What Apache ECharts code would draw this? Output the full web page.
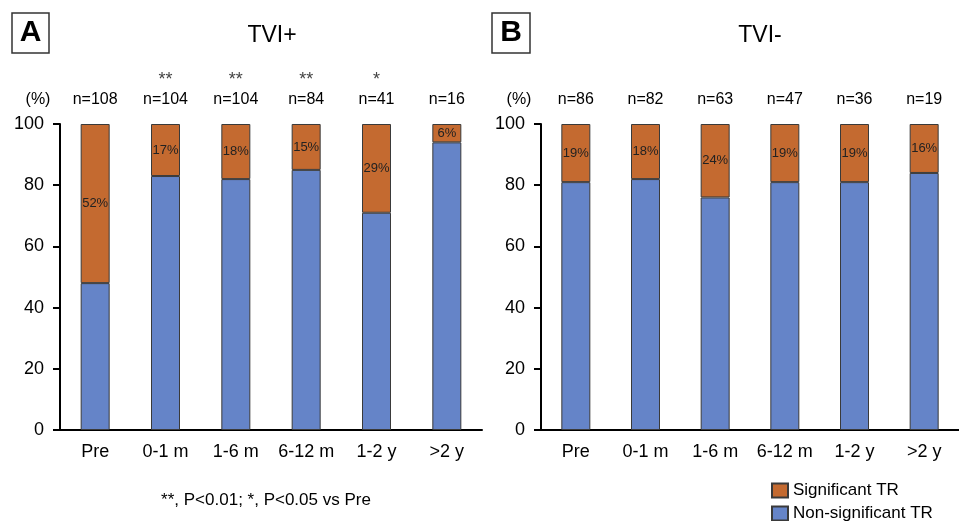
<!DOCTYPE html>
<html>
<head>
<meta charset="utf-8">
<script src="https://cdn.jsdelivr.net/npm/echarts@6/dist/echarts.min.js"></script>
<style>
  html, body { margin: 0; padding: 0; background: #fff; }
  #chart { width: 959px; height: 521px; }
</style>
</head>
<body>
<div id="chart"></div>
<script>
(function() {
  const categories = ['Pre', '0-1 m', '1-6 m', '6-12 m', '1-2 y', '>2 y'];

  // TVI+ panel
  const posNonSig = [48, 83, 82, 85, 71, 94];
  const posSig = [52, 17, 18, 15, 29, 6];
  const posN = [108, 104, 104, 84, 41, 16];
  const posStars = ['', '**', '**', '**', '*', ''];

  // TVI- panel
  const negNonSig = [81, 82, 76, 81, 81, 84];
  const negSig = [19, 18, 24, 19, 19, 16];
  const negN = [86, 82, 63, 47, 36, 19];
  const negStars = ['', '', '', '', '', ''];

  const yTicks = [0, 20, 40, 60, 80, 100];
  const legendNames = ['Significant TR', 'Non-significant TR'];

  const orange = '#c46a30';
  const blue = '#6584c8';
  const edge = '#3a3a3a';
  const font = '"Liberation Sans", Arial, sans-serif';

  const chart = echarts.init(document.getElementById('chart'));

  const yAxisFor = (gridIndex) => ({
    type: 'value',
    gridIndex: gridIndex,
    min: yTicks[0],
    max: yTicks[yTicks.length - 1],
    interval: 20,
    axisLine: { show: true, lineStyle: { color: '#000', width: 2 } },
    axisTick: { show: true, length: 7, lineStyle: { color: '#000', width: 2 } },
    axisLabel: { color: '#000', fontSize: 18, fontFamily: font, margin: 16 },
    splitLine: { show: false }
  });

  const xAxisFor = (gridIndex) => ({
    type: 'category',
    gridIndex: gridIndex,
    data: categories,
    axisLine: { lineStyle: { color: '#000', width: 2 } },
    axisTick: { show: false },
    axisLabel: { color: '#000', fontSize: 18, fontFamily: font, margin: 13, interval: 0, hideOverlap: false }
  });

  const topAxisFor = (gridIndex, ns, stars) => ({
    type: 'category',
    gridIndex: gridIndex,
    position: 'top',
    data: categories,
    axisLine: { show: false },
    axisTick: { show: false },
    axisLabel: {
      margin: 14,
      interval: 0,
      formatter: (value, index) => '{s|' + (stars[index] || ' ') + '}\n{n|n=' + ns[index] + '}',
      rich: {
        s: { fontSize: 18, color: '#444', fontFamily: font, lineHeight: 19 },
        n: { fontSize: 16, color: '#000', fontFamily: font, lineHeight: 20 }
      }
    }
  });

  const barSeries = (name, data, axisIndex, color, withLabel) => ({
    name: name,
    type: 'bar',
    stack: 'total' + axisIndex,
    xAxisIndex: axisIndex * 2,
    yAxisIndex: axisIndex,
    barWidth: 29,
    data: data,
    itemStyle: { color: color, borderColor: edge, borderWidth: 1 },
    label: withLabel ? {
      show: true,
      position: 'inside',
      formatter: '{c}%',
      color: '#222',
      fontSize: 13,
      fontFamily: font
    } : { show: false }
  });

  // one legend per entry so they stack without wrapping
  const legendFor = (name, top) => ({
    data: [name],
    left: 771,
    top: top,
    padding: 0,
    icon: 'rect',
    itemWidth: 16,
    itemHeight: 14,
    textStyle: { fontSize: 17, color: '#000', fontFamily: font }
  });

  const option = {
    backgroundColor: '#fff',
    animation: false,
    title: [
      { text: 'TVI+', left: 267, top: 19, textAlign: 'center',
        textStyle: { fontSize: 23, fontWeight: 'normal', color: '#000', fontFamily: font } },
      { text: 'TVI-', left: 755, top: 19, textAlign: 'center',
        textStyle: { fontSize: 23, fontWeight: 'normal', color: '#000', fontFamily: font } },
      { text: '(%)', left: 33, top: 87, textAlign: 'center',
        textStyle: { fontSize: 16, fontWeight: 'normal', color: '#000', fontFamily: font } },
      { text: '(%)', left: 514, top: 87, textAlign: 'center',
        textStyle: { fontSize: 16, fontWeight: 'normal', color: '#000', fontFamily: font } },
      { text: '**, P<0.01; *, P<0.05 vs Pre', left: 261, top: 487, textAlign: 'center',
        textStyle: { fontSize: 17, fontWeight: 'normal', color: '#000', fontFamily: font } }
    ],
    graphic: [
      { type: 'rect', shape: { x: 12, y: 13, width: 37, height: 40 },
        style: { fill: '#fff', stroke: '#333', lineWidth: 1.5 } },
      { type: 'text', x: 30.5, y: 33,
        style: { text: 'A', fontSize: 30, fontWeight: 'bold', fontFamily: font, fill: '#000',
                 textAlign: 'center', textVerticalAlign: 'middle' } },
      { type: 'rect', shape: { x: 492, y: 13, width: 38, height: 40 },
        style: { fill: '#fff', stroke: '#333', lineWidth: 1.5 } },
      { type: 'text', x: 511, y: 33,
        style: { text: 'B', fontSize: 30, fontWeight: 'bold', fontFamily: font, fill: '#000',
                 textAlign: 'center', textVerticalAlign: 'middle' } }
    ],
    legend: [
      legendFor(legendNames[0], 482),
      legendFor(legendNames[1], 505)
    ],
    grid: [
      { left: 60, top: 124, width: 422, height: 306 },
      { left: 541, top: 124, width: 421, height: 306 }
    ],
    xAxis: [
      xAxisFor(0), topAxisFor(0, posN, posStars),
      xAxisFor(1), topAxisFor(1, negN, negStars)
    ],
    yAxis: [yAxisFor(0), yAxisFor(1)],
    series: [
      barSeries(legendNames[1], posNonSig, 0, blue, false),
      barSeries(legendNames[0], posSig, 0, orange, true),
      barSeries(legendNames[1], negNonSig, 1, blue, false),
      barSeries(legendNames[0], negSig, 1, orange, true)
    ]
  };

  chart.setOption(option);
})();
</script>
</body>
</html>
